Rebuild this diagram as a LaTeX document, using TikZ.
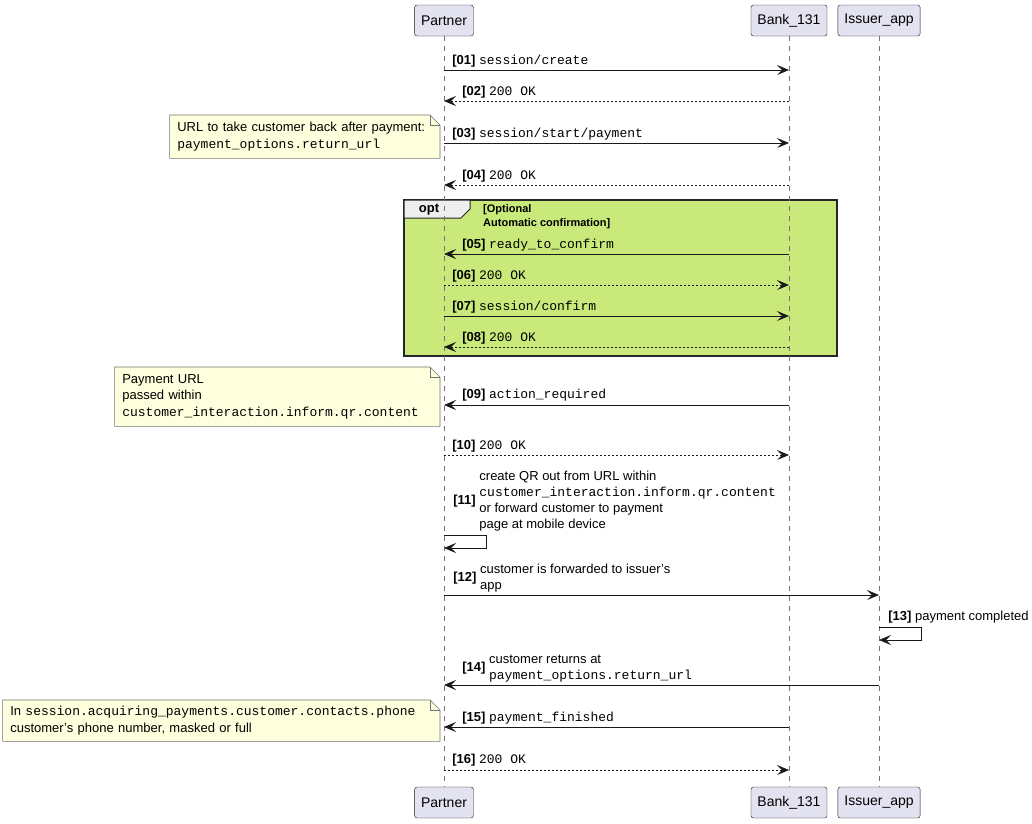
\documentclass[tikz,border=0pt]{standalone}
\usepackage{fontspec}
\setmainfont{Liberation Sans}
\setmonofont{Liberation Mono}
\usetikzlibrary{arrows.meta,calc,backgrounds}

\definecolor{partbg}{HTML}{E2E2F0}
\definecolor{optbg}{HTML}{C9E97A}
\definecolor{notebg}{HTML}{FEFFDD}
\definecolor{tabbg}{HTML}{EEEEEE}

\newcommand{\msgno}[1]{{\bfseries[#1]}}
\newcommand{\code}[1]{{\ttfamily #1}}
% folded note outline behind a named node
\newcommand{\dognote}[1]{%
  \begin{pgfonlayer}{background}
    \draw[notebg line] (#1.north west) -- ($(#1.north east)+(-10,0)$) -- ($(#1.north east)+(0,10)$)
      -- (#1.south east) -- (#1.south west) -- cycle;
    \draw[notebg line,fill=none] ($(#1.north east)+(-10,0)$) -- ($(#1.north east)+(-10,10)$) -- ($(#1.north east)+(0,10)$);
  \end{pgfonlayer}}

\begin{document}
\begin{tikzpicture}[x=1pt,y=-1pt,
  part/.style={draw=black!90,fill=partbg,rounded corners=2.5pt,minimum height=31pt,inner xsep=6.5pt,font=\fontsize{14}{16}\selectfont},
  life/.style={draw=black!55,dash pattern=on 5pt off 5pt,line width=0.5pt},
  call/.style={draw=black!90,line width=0.8pt,-{Stealth[length=12pt,width=10pt,inset=5pt]}},
  reply/.style={call,dash pattern=on 2pt off 2pt},
  lbl/.style={anchor=west,inner sep=0pt,yshift=9pt,font=\fontsize{13}{16}\selectfont},
  note/.style={anchor=north east,inner xsep=7.5pt,inner ysep=0pt,align=left,font=\fontsize{13}{16.5}\selectfont},
  notebg line/.style={draw=black!55,fill=notebg,line width=0.6pt},
]
\begin{pgfonlayer}{background}
  \fill[white] (0,0) rectangle (1032,823);
\end{pgfonlayer}
\useasboundingbox (0,0) rectangle (1032,823);

% participants
\node[part] (pTop) at (444,20.5) {Partner};
\node[part] (bTop) at (789,20.5) {Bank\_131};
\node[part] (iTop) at (879,20.5) {Issuer\_app};
\node[part] (pBot) at (444,802.5) {Partner};
\node[part] (bBot) at (789,802.5) {Bank\_131};
\node[part] (iBot) at (879,802.5) {Issuer\_app};

% opt frame
\draw[fill=optbg,line width=1.5pt,draw=black!85] (404,200) rectangle (837,356);
\draw[fill=tabbg,line width=1pt,draw=black!85] (404,200) -- (470,200) -- (470,209) -- (461,218) -- (404,218) -- cycle;
\node[inner sep=0pt,font=\fontsize{13}{15}\bfseries] (optName) at (429,210) {opt};
\node[anchor=north west,inner sep=0pt,align=left,font=\fontsize{11}{14}\bfseries] (optGuard) at (483,204) {[Optional\\Automatic confirmation]};

% lifelines
\draw[life] (pTop) -- (pBot);
\draw[life] (bTop) -- (bBot);
\draw[life] (iTop) -- (iBot);

% message rows
\coordinate (m01) at (0,70);  \coordinate (m02) at (0,101);
\coordinate (m03) at (0,143); \coordinate (m04) at (0,185);
\coordinate (m05) at (0,254); \coordinate (m06) at (0,285);
\coordinate (m07) at (0,316); \coordinate (m08) at (0,347);
\coordinate (m09) at (0,405); \coordinate (m10) at (0,455);
\coordinate (m11a) at (0,535); \coordinate (m11b) at (0,548);
\coordinate (m12) at (0,595);
\coordinate (m13a) at (0,627); \coordinate (m13b) at (0,640);
\coordinate (m14) at (0,685); \coordinate (m15) at (0,727);
\coordinate (m16) at (0,770);

% notes
\node[note,minimum width=270pt,minimum height=43pt,text width=255pt] (note03) at (440,115)
  {URL to take customer back after payment:\\\code{payment\_options.return\_url}};
\dognote{note03}
\node[note,minimum width=325pt,minimum height=59pt,text width=310pt] (note09) at (440,367)
  {Payment URL\\passed within\\\code{customer\_interaction.inform.qr.content}};
\dognote{note09}
\node[note,minimum width=437pt,minimum height=41pt,text width=422pt] (note15) at (440,700)
  {In \code{session.acquiring\_payments.customer.contacts.phone}\\customer's phone number, masked or full};
\dognote{note15}

% messages
\draw[call] (pTop |- m01) -- (bTop |- m01) node[lbl,pos=0,xshift=8pt] {\msgno{01} \code{session/create}};
\draw[reply] (bTop |- m02) -- (pTop |- m02) node[lbl,pos=1,xshift=18pt] {\msgno{02} \code{200 OK}};
\draw[call] (pTop |- m03) -- (bTop |- m03) node[lbl,pos=0,xshift=8pt] {\msgno{03} \code{session/start/payment}};
\draw[reply] (bTop |- m04) -- (pTop |- m04) node[lbl,pos=1,xshift=18pt] {\msgno{04} \code{200 OK}};
\draw[call] (bTop |- m05) -- (pTop |- m05) node[lbl,pos=1,xshift=18pt] {\msgno{05} \code{ready\_to\_confirm}};
\draw[reply] (pTop |- m06) -- (bTop |- m06) node[lbl,pos=0,xshift=8pt] {\msgno{06} \code{200 OK}};
\draw[call] (pTop |- m07) -- (bTop |- m07) node[lbl,pos=0,xshift=8pt] {\msgno{07} \code{session/confirm}};
\draw[reply] (bTop |- m08) -- (pTop |- m08) node[lbl,pos=1,xshift=18pt] {\msgno{08} \code{200 OK}};
\draw[call] (bTop |- m09) -- (pTop |- m09) node[lbl,pos=1,xshift=18pt,yshift=1pt] {\msgno{09} \code{action\_required}};
\draw[reply] (pTop |- m10) -- (bTop |- m10) node[lbl,pos=0,xshift=8pt] {\msgno{10} \code{200 OK}};
\draw[call] (pTop |- m11a) node[lbl,xshift=9pt,yshift=25pt] {\msgno{11} \begin{tabular}{@{}l@{}}create QR out from URL within\\\code{customer\_interaction.inform.qr.content}\\or forward customer to payment\\page at mobile device\end{tabular}}
  -- ++(42,0) |- (pTop |- m11b);
\draw[call] (pTop |- m12) -- (iTop |- m12) node[lbl,pos=0,xshift=9pt,yshift=8pt] {\msgno{12} \begin{tabular}{@{}l@{}}customer is forwarded to issuer's\\app\end{tabular}};
\draw[call] (iTop |- m13a) node[lbl,xshift=9pt,yshift=1pt] {\msgno{13} payment completed}
  -- ++(42,0) |- (iTop |- m13b);
\draw[call] (iTop |- m14) -- (pTop |- m14) node[lbl,pos=1,xshift=18pt,yshift=8pt] {\msgno{14} \begin{tabular}{@{}l@{}}customer returns at\\\code{payment\_options.return\_url}\end{tabular}};
\draw[call] (bTop |- m15) -- (pTop |- m15) node[lbl,pos=1,xshift=18pt] {\msgno{15} \code{payment\_finished}};
\draw[reply] (pTop |- m16) -- (bTop |- m16) node[lbl,pos=0,xshift=8pt,yshift=1pt] {\msgno{16} \code{200 OK}};
\end{tikzpicture}
\end{document}
